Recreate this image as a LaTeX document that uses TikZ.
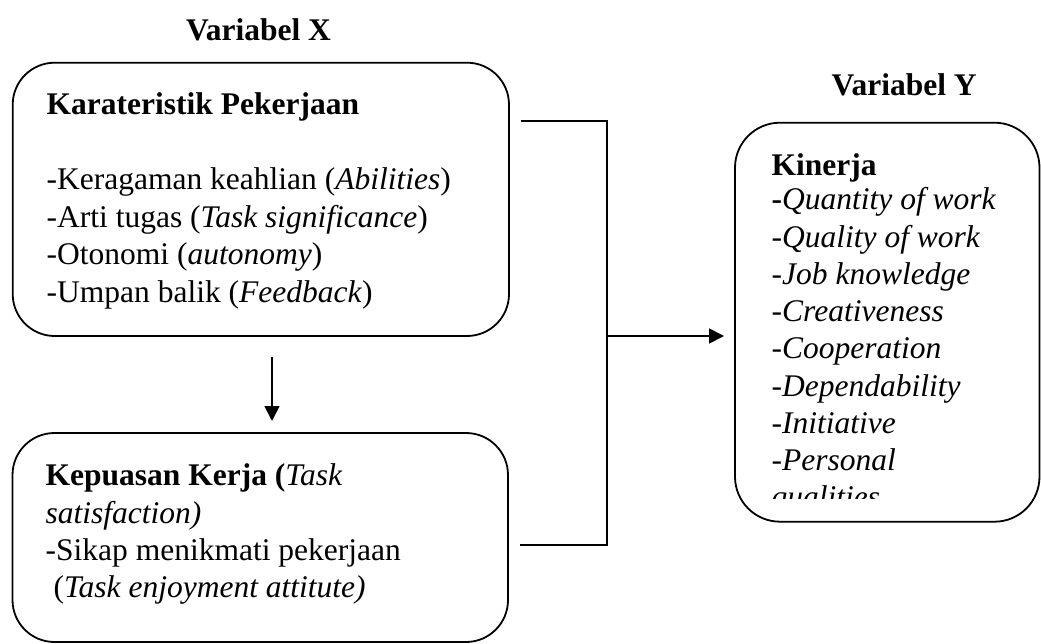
\documentclass[tikz,border=0pt]{standalone}
\usepackage{fontspec}
\setmainfont{Liberation Serif}
\usetikzlibrary{arrows.meta}
\begin{document}
\begin{tikzpicture}[x=1pt,y=-1pt,
  box/.style={draw=black, line width=1.8pt, rounded corners=42pt, inner sep=0pt, outer sep=0pt},
  txt/.style={anchor=base west, inner sep=0pt, outer sep=0pt, font=\fontsize{31.5}{37}\selectfont},
  conn/.style={line width=1.8pt},
  arr/.style={line width=1.8pt, -{Triangle[length=15pt,width=15pt]}}]
\useasboundingbox (0,0) rectangle (1041,644);
% boxes
\node[box, minimum width=496.3pt, minimum height=273.3pt] (kar) at (260.85,199.35) {};
\node[box, minimum width=495.5pt, minimum height=209pt] (kep) at (260.25,537.5) {};
\node[box, rounded corners=45pt, minimum width=304.5pt, minimum height=399pt] (kin) at (887.25,322.2) {};
% titles
\node[txt] (vx) at (186,40.7) {\textbf{Variabel X}};
\node[txt] (vy) at (831.7,96) {\textbf{Variabel Y}};
% box 1 text
\node[txt] (k0) at (46.7,115) {\textbf{Karateristik Pekerjaan}};
\node[txt] (k1) at (46.7,190) {-Keragaman keahlian (\textit{Abilities})};
\node[txt] (k2) at (46.7,227.5) {-Arti tugas (\textit{Task significance})};
\node[txt] (k3) at (46.7,265) {-Otonomi (\textit{autonomy})};
\node[txt] (k4) at (46.7,302) {-Umpan balik (\textit{Feedback})};
% box 2 text
\node[txt] (p0) at (45.7,485.5) {\textbf{Kepuasan Kerja (}\textit{Task}};
\node[txt] (p1) at (45.7,523) {\textit{satisfaction)}};
\node[txt] (p2) at (45.7,560) {-Sikap menikmati pekerjaan};
\node[txt] (p3) at (45.7,597) {\ (\textit{Task enjoyment attitute)}};
% box Y text
\begin{scope}
\clip (735,100) rectangle (1041,498);
\node[txt] (y0) at (771.7,176) {\textbf{Kinerja}};
\node[txt] (y1) at (771.7,210) {\textbf{-}\textit{Quantity of work}};
\node[txt] (y2) at (771.7,247.2) {-\textit{Quality of work}};
\node[txt] (y3) at (771.7,284.4) {-\textit{Job knowledge}};
\node[txt] (y4) at (771.7,321.6) {-\textit{Creativeness}};
\node[txt] (y5) at (771.7,358.8) {-\textit{Cooperation}};
\node[txt] (y6) at (771.7,396) {-\textit{Dependability}};
\node[txt] (y7) at (771.7,433.2) {-\textit{Initiative}};
\node[txt] (y8) at (771.7,470.4) {-\textit{Personal}};
\node[txt] (y9) at (771.7,507.6) {\textit{qualities}};
\end{scope}
% connectors
\coordinate (a1) at (272,357);
\coordinate (a2) at (272,421);
\coordinate (t1) at (521,121);
\coordinate (t2) at (606.7,121);
\coordinate (b1) at (520,545);
\coordinate (b2) at (606.7,545);
\coordinate (m1) at (606.7,336);
\coordinate (m2) at (724,336);
\draw[arr] (a1) -- (a2);
\draw[conn] (t1) -- (t2) -- (b2) -- (b1);
\draw[arr] (m1) -- (m2);
\end{tikzpicture}
\end{document}
